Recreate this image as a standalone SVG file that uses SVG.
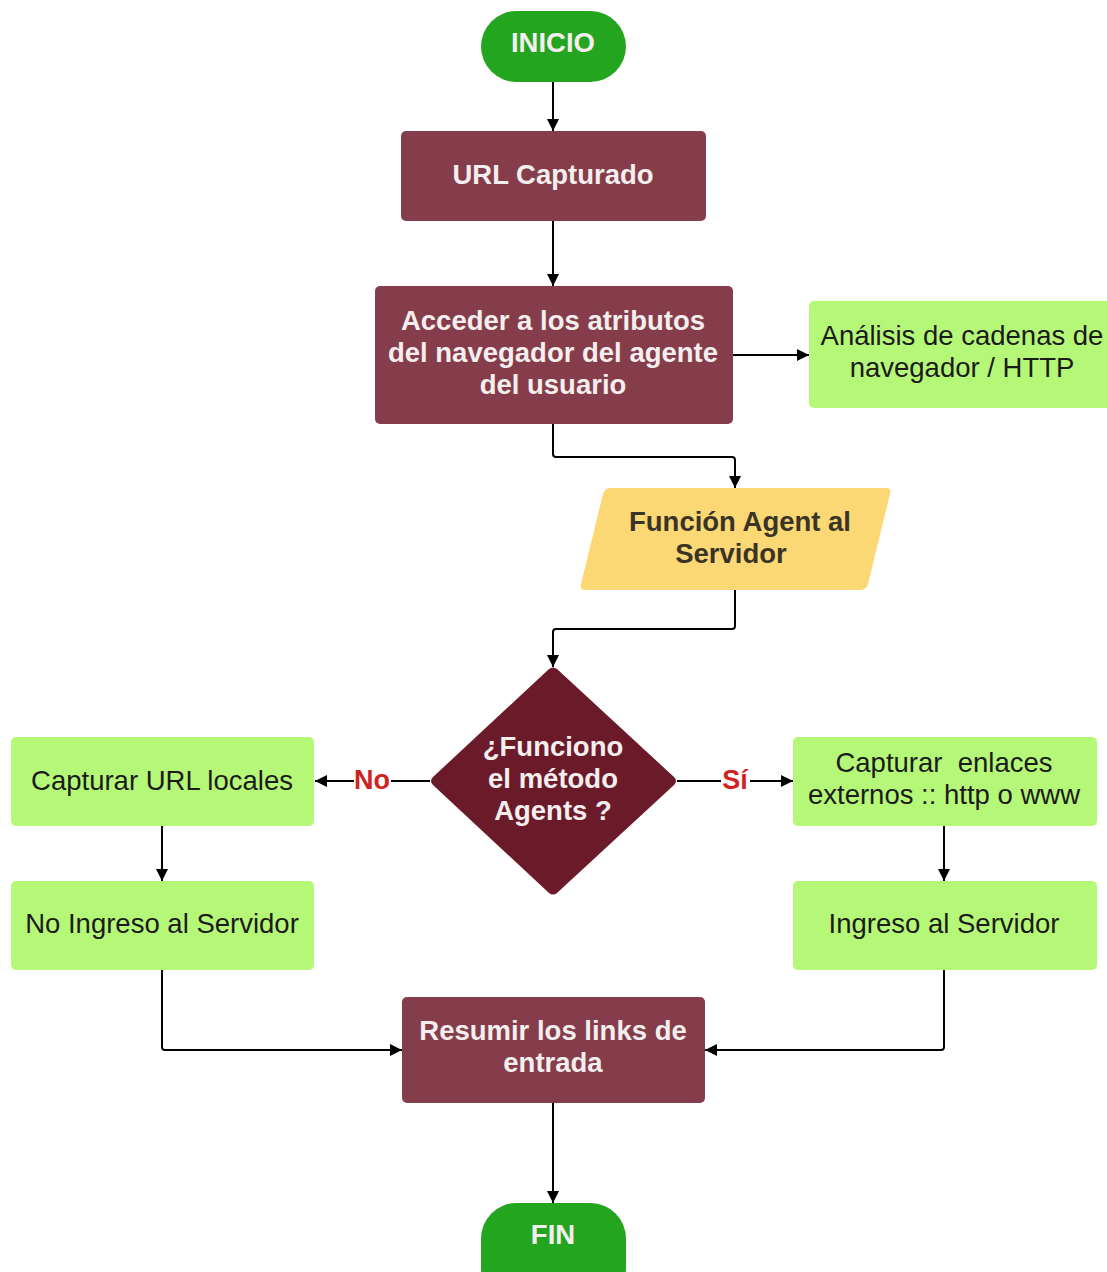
<svg xmlns="http://www.w3.org/2000/svg" width="1107" height="1272" viewBox="0 0 1107 1272">
  <defs>
    <marker id="arrow" viewBox="0 0 12 12" refX="12" refY="6" markerWidth="12" markerHeight="12" markerUnits="userSpaceOnUse" orient="auto">
      <path d="M0,0 L12,6 L0,12 Z" fill="#000"/>
    </marker>
    <style>
      .terminal { fill: #23a51f; }
      .process { fill: #863d4b; }
      .decision { fill: #6b1a29; }
      .light { fill: #b5f777; }
      .io { fill: #fcd874; }
      .t { font-family: "Liberation Sans", Arial, sans-serif; font-size: 27.5px; text-anchor: middle; }
      .tb { font-weight: bold; fill: #f4eeee; }
      .tdark { fill: #1b1b1b; }
      .tio { font-weight: bold; fill: #3a3426; }
      .lbl { font-family: "Liberation Sans", Arial, sans-serif; font-size: 27px; font-weight: bold; fill: #d0231f; text-anchor: middle; }
      .conn { fill: none; stroke: #000; stroke-width: 2; }
    </style>
  </defs>
  <rect width="1107" height="1272" fill="#ffffff"/>

  <!-- connectors -->
  <g id="connectors">
    <path class="conn" d="M553,82 V131" marker-end="url(#arrow)"/>
    <path class="conn" d="M553,221 V286" marker-end="url(#arrow)"/>
    <path class="conn" d="M733,355 H809" marker-end="url(#arrow)"/>
    <path class="conn" d="M553,424 V454 Q553,457 556,457 H732 Q735,457 735,460 V488" marker-end="url(#arrow)"/>
    <path class="conn" d="M735,590 V626 Q735,629 732,629 H556 Q553,629 553,632 V667" marker-end="url(#arrow)"/>
    <path class="conn" d="M430,781 H391"/>
    <path class="conn" d="M354,781 H315" marker-end="url(#arrow)"/>
    <path class="conn" d="M677,781 H721"/>
    <path class="conn" d="M750,781 H793" marker-end="url(#arrow)"/>
    <path class="conn" d="M162,826 V881" marker-end="url(#arrow)"/>
    <path class="conn" d="M944,826 V881" marker-end="url(#arrow)"/>
    <path class="conn" d="M162,970 V1047 Q162,1050 165,1050 H402" marker-end="url(#arrow)"/>
    <path class="conn" d="M944,970 V1047 Q944,1050 941,1050 H705" marker-end="url(#arrow)"/>
    <path class="conn" d="M553,1103 V1203" marker-end="url(#arrow)"/>
    <text class="lbl" x="372" y="789">No</text>
    <text class="lbl" x="735" y="789">Sí</text>
  </g>

  <g id="inicio">
    <rect class="terminal" x="481" y="11" width="145" height="71" rx="35.5"/>
    <text class="t tb" x="553" y="52">INICIO</text>
  </g>

  <g id="url-capturado">
    <rect class="process" x="401" y="131" width="305" height="90" rx="5"/>
    <text class="t tb" x="553" y="184">URL Capturado</text>
  </g>

  <g id="acceder">
    <rect class="process" x="375" y="286" width="358" height="138" rx="5"/>
    <text class="t tb" x="553" y="330">Acceder a los atributos</text>
    <text class="t tb" x="553" y="362">del navegador del agente</text>
    <text class="t tb" x="553" y="394">del usuario</text>
  </g>

  <g id="analisis">
    <rect class="light" x="809" y="301" width="310" height="107" rx="5"/>
    <text class="t tdark" x="962" y="345">Análisis de cadenas de</text>
    <text class="t tdark" x="962" y="377">navegador / HTTP</text>
  </g>

  <g id="funcion-agent">
    <path class="io" d="M610,488 H886 Q892,488 890,494 L868,584 Q866,590 860,590 H586 Q579,590 581,584 L603,494 Q605,488 610,488 Z"/>
    <text class="t tio" x="740" y="531">Función Agent al</text>
    <text class="t tio" x="731" y="563">Servidor</text>
  </g>

  <g id="decision">
    <path class="decision" d="M549,669 Q553,666 557,669 L674,777 Q678,781 674,785 L557,893 Q553,896 549,893 L433,785 Q429,781 433,777 Z"/>
    <text class="t tb" x="553" y="756">¿Funciono</text>
    <text class="t tb" x="553" y="788">el método</text>
    <text class="t tb" x="553" y="820">Agents ?</text>
  </g>

  <g id="capturar-locales">
    <rect class="light" x="11" y="737" width="303" height="89" rx="5"/>
    <text class="t tdark" x="162" y="790">Capturar URL locales</text>
  </g>

  <g id="no-ingreso">
    <rect class="light" x="11" y="881" width="303" height="89" rx="5"/>
    <text class="t tdark" x="162" y="933">No Ingreso al Servidor</text>
  </g>

  <g id="capturar-externos">
    <rect class="light" x="793" y="737" width="304" height="89" rx="5"/>
    <text class="t tdark" x="944" y="772" xml:space="preserve">Capturar  enlaces</text>
    <text class="t tdark" x="944" y="804">externos :: http o www</text>
  </g>

  <g id="ingreso">
    <rect class="light" x="793" y="881" width="304" height="89" rx="5"/>
    <text class="t tdark" x="944" y="933">Ingreso al Servidor</text>
  </g>

  <g id="resumir">
    <rect class="process" x="402" y="997" width="303" height="106" rx="5"/>
    <text class="t tb" x="553" y="1040">Resumir los links de</text>
    <text class="t tb" x="553" y="1072">entrada</text>
  </g>

  <g id="fin">
    <rect class="terminal" x="481" y="1203" width="145" height="100" rx="35.5"/>
    <text class="t tb" x="553" y="1244">FIN</text>
  </g>
</svg>
